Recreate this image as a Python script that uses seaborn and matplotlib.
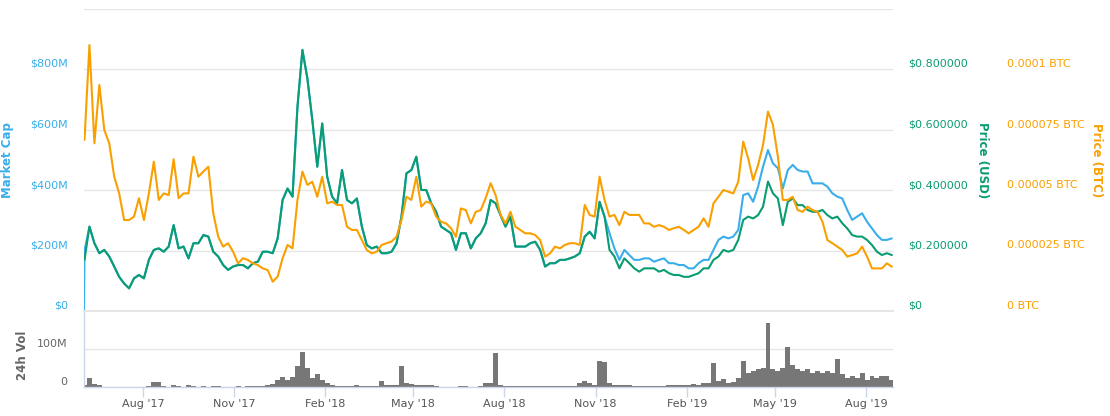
import numpy as np
import pandas as pd
import matplotlib
matplotlib.use("Agg")
import matplotlib.pyplot as plt
import matplotlib.dates as mdates
import seaborn as sns

sns.set_theme(style="white")
plt.rcParams["font.family"] = ["DejaVu Sans"]

# ---------------- data (5-day samples) ----------------
start_date = "2017-06-03"
n_points = 164
mc_first_date = "2017-06-02 12:00"

price_usd = [
    0.169, 0.279, 0.224, 0.191, 0.202, 0.180, 0.147, 0.113, 0.091, 0.075,
    0.108, 0.119, 0.108, 0.169, 0.202, 0.207, 0.196, 0.213, 0.284, 0.207,
    0.213, 0.174, 0.224, 0.224, 0.251, 0.246, 0.196, 0.180, 0.152, 0.136,
    0.147, 0.152, 0.152, 0.141, 0.158, 0.163, 0.196, 0.196, 0.191, 0.240,
    0.367, 0.405,
    0.378, 0.675, 0.863, 0.769, 0.631, 0.477, 0.620, 0.444, 0.378, 0.356,
    0.466, 0.367, 0.356, 0.372, 0.279, 0.218, 0.207, 0.213, 0.191, 0.191,
    0.196, 0.224, 0.312, 0.455, 0.466, 0.510, 0.400, 0.400, 0.356, 0.328,
    0.279, 0.268, 0.257, 0.202, 0.257, 0.257, 0.207, 0.240, 0.257, 0.290,
    0.367,
    0.356, 0.317, 0.279, 0.312, 0.213, 0.213, 0.213, 0.224, 0.229, 0.202,
    0.147, 0.158, 0.158, 0.169, 0.169, 0.174, 0.180, 0.191, 0.246, 0.262,
    0.240, 0.361, 0.312, 0.202, 0.180, 0.141, 0.174, 0.158, 0.141, 0.130,
    0.141, 0.141, 0.141, 0.130, 0.136, 0.125, 0.119, 0.119, 0.113, 0.113,
    0.119, 0.125,
    0.141, 0.141, 0.169, 0.180, 0.202, 0.196, 0.202, 0.235, 0.301, 0.312,
    0.306, 0.317, 0.345, 0.428, 0.389, 0.372, 0.284, 0.361, 0.372, 0.350,
    0.350, 0.334, 0.328, 0.328, 0.334, 0.317, 0.306, 0.312, 0.290, 0.273,
    0.251, 0.246, 0.246, 0.235, 0.218, 0.196, 0.185, 0.191, 0.185,
]

# price in BTC, expressed in units of 0.00001 BTC
price_btc_e5 = [
    7.07, 10.99, 6.93, 9.34, 7.48, 6.93, 5.55, 4.86, 3.76, 3.76,
    3.90, 4.66, 3.76, 4.86, 6.17, 4.59, 4.86, 4.79, 6.27, 4.66,
    4.86, 4.86, 6.38, 5.55, 5.76, 5.96, 4.04, 3.07, 2.66, 2.80,
    2.45, 1.97, 2.18, 2.11, 1.97, 1.90, 1.76, 1.69, 1.21, 1.42,
    2.18, 2.73,
    2.59, 4.59, 5.76, 5.21, 5.34, 4.72, 5.55, 4.45, 4.52, 4.38,
    4.38, 3.48, 3.35, 3.35, 2.93, 2.52, 2.38, 2.45, 2.73, 2.80,
    2.87, 3.07, 3.76, 4.72, 4.59, 5.55, 4.31, 4.52, 4.45, 3.90,
    3.69, 3.62, 3.42, 3.07, 4.24, 4.17, 3.62, 4.10, 4.17, 4.66,
    5.28,
    4.79, 3.97, 3.62, 4.10, 3.48, 3.35, 3.21, 3.21, 3.14, 2.93,
    2.25, 2.38, 2.66, 2.59, 2.73, 2.80, 2.80, 2.73, 4.38, 3.97,
    3.90, 5.55, 4.59, 3.90, 3.97, 3.55, 4.10, 3.97, 3.97, 3.97,
    3.62, 3.62, 3.48, 3.55, 3.48, 3.35, 3.42, 3.48, 3.35, 3.21,
    3.35, 3.48,
    3.83, 3.48, 4.45, 4.72, 5.00, 4.93, 4.86, 5.34, 7.00, 6.31,
    5.41, 6.03, 6.86, 8.24, 7.69, 6.38, 4.59, 4.59, 4.72, 4.17,
    4.10, 4.31, 4.17, 4.10, 3.69, 2.93, 2.80, 2.66, 2.52, 2.25,
    2.31, 2.38, 2.66, 2.25, 1.76, 1.76, 1.76, 1.97, 1.83,
]

# market cap in $M (first value belongs to mc_first_date)
market_cap_m = [
    0,
    200, 279, 224, 191, 202, 180, 147, 113, 91, 75,
    108, 119, 108, 169, 202, 207, 196, 213, 284, 207,
    213, 174, 224, 224, 251, 246, 196, 180, 152, 136,
    147, 152, 152, 141, 158, 163, 196, 196, 191, 240,
    367, 405,
    378, 675, 863, 769, 631, 477, 620, 444, 378, 356,
    466, 367, 356, 372, 279, 218, 207, 213, 191, 191,
    196, 224, 312, 455, 466, 510, 400, 400, 356, 328,
    279, 268, 257, 202, 257, 257, 207, 240, 257, 290,
    367,
    356, 317, 279, 312, 213, 213, 213, 224, 229, 202,
    147, 158, 158, 169, 169, 174, 180, 191, 246, 262,
    240, 361, 312,
    257, 207, 169, 202, 185, 169, 169, 174, 174, 163,
    169, 174, 158, 158, 152, 152, 141, 141, 158,
    169, 169, 202, 235, 246, 240, 246, 268, 383, 389,
    361, 411, 477, 532, 488, 472, 405, 466, 483, 466,
    461, 461, 422, 422, 422, 411, 389, 378, 372, 334,
    301, 312, 323, 295, 273, 251, 235, 235, 240,
]

# 24h volume in $M
volume_m = [
    6, 24, 8, 6, 1, 0.5, 0.5, 0.5, 0.5, 0.5, 0.5, 0.5, 1, 3, 13, 12, 3, 1, 6, 3, 1,
    4, 3, 1, 3, 1, 2, 2, 1, 1, 1, 3, 1, 2, 2, 2, 3,
    6, 8, 19, 26, 19, 26, 55, 93, 50, 24, 33, 19, 10, 6,
    3, 2, 3, 3, 6, 3, 3, 3, 3, 15, 6, 5, 6,
    55, 11, 8, 6, 6, 4, 4, 2, 1, 1, 1, 1, 3, 2, 1, 1, 2, 11, 11,
    88, 6, 2, 2, 2, 2, 3, 2, 2, 2, 2, 3, 3, 3, 3, 2, 3,
    11, 15, 11, 6, 68, 66, 11, 6, 4, 6, 4, 3, 3, 3, 3, 3, 3, 3,
    6, 6, 6, 4, 4, 8, 6, 10, 11, 64, 17, 22, 11, 12, 24, 68, 37, 42, 46, 50,
    167, 46, 42, 50, 105, 59, 46, 42, 46, 37, 42, 37, 42, 37, 73, 33, 24, 28, 24, 37,
    19, 28, 24, 28, 28, 19,
]

mc_ticks = [0, 200, 400, 600, 800, 1000]
mc_labels = ["$0", "$200M", "$400M", "$600M", "$800M", ""]
usd_ticks = [0, 0.2, 0.4, 0.6, 0.8]
usd_labels = ["$0", "$0.200000", "$0.400000", "$0.600000", "$0.800000"]
btc_ticks = [0, 2.5, 5, 7.5, 10]
btc_labels = ["0 BTC", "0.000025 BTC", "0.00005 BTC", "0.000075 BTC", "0.0001 BTC"]
vol_ticks = [0, 100]
vol_labels = ["0", "100M"]

# ---------------- styling ----------------
BLUE = "#3AAEEA"
GREEN = "#0A9C72"
ORANGE = "#F9A000"
GRID = "#E6E6E6"
AXC = "#CCD6EB"
GRAY_TXT = "#666666"
FS = 8

dates = pd.date_range(start_date, periods=n_points, freq="5D")
xnum = mdates.date2num(dates)
mc_x = np.concatenate([[mdates.date2num(pd.Timestamp(mc_first_date))], xnum])

W, H = 1110, 416
fig = plt.figure(figsize=(W / 100, H / 100), dpi=100)
fig.patch.set_facecolor("white")

def fx(px):
    return px / W

def fy(py):
    return 1 - py / H

L, R = 84, 893
ax = fig.add_axes([fx(L), fy(311), fx(R - L), (311 - 8.5) / H])
axv = fig.add_axes([fx(L), fy(387), fx(R - L), (387 - 312) / H])

x0 = mdates.date2num(pd.Timestamp("2017-06-02 12:00"))
x1 = mdates.date2num(pd.Timestamp("2019-08-28 05:00"))

# main series
sns.lineplot(x=mc_x, y=market_cap_m, ax=ax, color=BLUE, linewidth=1.5,
             estimator=None, sort=False, legend=False)
ax_usd = ax.twinx()
sns.lineplot(x=xnum, y=price_usd, ax=ax_usd, color=GREEN, linewidth=1.5,
             estimator=None, sort=False, legend=False)
ax_btc = ax.twinx()
sns.lineplot(x=xnum, y=price_btc_e5, ax=ax_btc, color=ORANGE, linewidth=1.5,
             estimator=None, sort=False, legend=False)

for a in (ax, ax_usd, ax_btc):
    a.set_xlim(x0, x1)
    a.set_xlabel("")
    a.set_ylabel("")
    for s in a.spines.values():
        s.set_visible(False)
    a.tick_params(axis="x", which="both", length=0, labelbottom=False)
    a.grid(False)

ax.set_ylim(0, 1000)
ax.set_yticks(mc_ticks, mc_labels)
ax.yaxis.grid(True, color=GRID, linewidth=1)
ax.spines["bottom"].set_visible(True)
ax.spines["bottom"].set_color(GRID)
ax.spines["bottom"].set_linewidth(1.5)
ax.tick_params(axis="y", length=0, pad=11.5, labelsize=FS, labelcolor=BLUE)

ax_usd.set_ylim(0, 1.0)
ax_usd.set_yticks(usd_ticks, usd_labels)
ax_usd.tick_params(axis="y", length=0, pad=10.8, labelsize=FS, labelcolor=GREEN)

ax_btc.set_ylim(0, 12.5)
ax_btc.set_yticks(btc_ticks, btc_labels)
ax_btc.tick_params(axis="y", length=0, pad=82, labelsize=FS, labelcolor=ORANGE)

for a in (ax, ax_usd, ax_btc):
    for lab in a.get_yticklabels():
        lab.set_verticalalignment("bottom")

# volume panel
sns.histplot(x=xnum, weights=volume_m, bins=n_points,
             binrange=(xnum[0] - 2.5, xnum[-1] + 2.5), stat="count",
             color="#777777", alpha=1.0, edgecolor="none", linewidth=0,
             ax=axv)
axv.set_xlim(x0, x1)
axv.set_ylim(0, 197)
axv.set_xlabel("")
axv.set_ylabel("")
axv.set_yticks(vol_ticks, vol_labels)
axv.yaxis.grid(True, color=GRID, linewidth=1)
axv.set_axisbelow(True)
for s in ("top", "right"):
    axv.spines[s].set_visible(False)
for s in ("left", "bottom"):
    axv.spines[s].set_visible(True)
    axv.spines[s].set_color(AXC)
    axv.spines[s].set_linewidth(1)
axv.tick_params(axis="y", length=0, pad=12, labelsize=FS, labelcolor=GRAY_TXT)
for lab in axv.get_yticklabels():
    lab.set_verticalalignment("bottom")
axv.xaxis.set_major_locator(mdates.MonthLocator(bymonth=[2, 5, 8, 11]))
axv.xaxis.set_major_formatter(mdates.DateFormatter("%b '%y"))
axv.tick_params(axis="x", direction="out", length=7.2, width=1, color=AXC,
                pad=1.5, labelsize=FS, labelcolor="#555555", bottom=True)

# axis titles
fig.text(fx(8), fy(160), "Market Cap", rotation=90, ha="center", va="center",
         color=BLUE, fontsize=8.5, fontweight="bold")
fig.text(fx(982), fy(160), "Price (USD)", rotation=270, ha="center", va="center",
         color=GREEN, fontsize=8.5, fontweight="bold")
fig.text(fx(1097), fy(160), "Price (BTC)", rotation=270, ha="center", va="center",
         color=ORANGE, fontsize=8.5, fontweight="bold")
fig.text(fx(23), fy(355), "24h Vol", rotation=90, ha="center", va="center",
         color=GRAY_TXT, fontsize=8.5, fontweight="bold")

fig.savefig("out.png", dpi=100, facecolor="white")
